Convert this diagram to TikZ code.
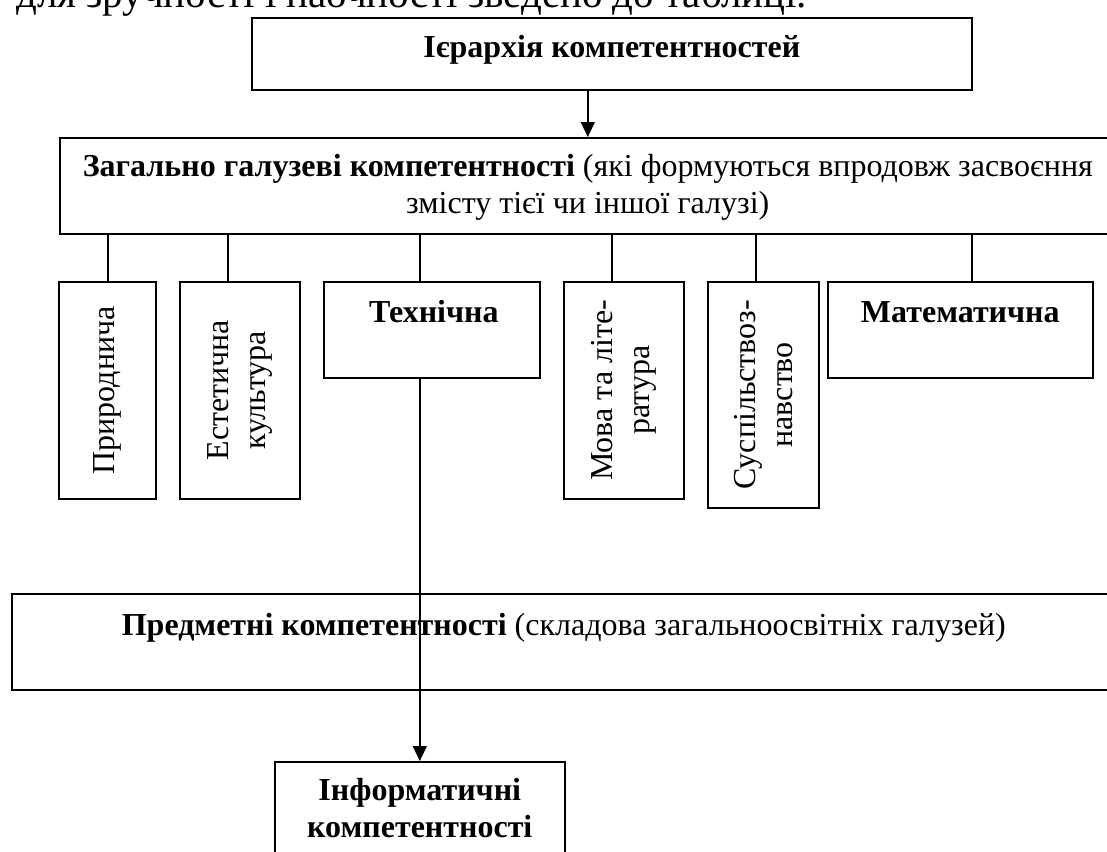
\documentclass[tikz,border=0pt]{standalone}
\usepackage{fontspec}
\setmainfont{Liberation Serif}
\usetikzlibrary{calc, arrows.meta}
\tikzset{compbox/.style={draw, line width=1.6pt, inner sep=0pt, anchor=north west}}
\tikzset{vlabel/.style={rotate=90, align=center, inner sep=0pt}}
\tikzset{boxtext/.style={anchor=base, align=center, inner sep=0pt}}
\tikzset{conn/.style={line width=1.5pt}}
\tikzset{arr/.style={line width=1.5pt, -{Triangle[length=15pt,width=14pt]}}}

\begin{document}
\begin{tikzpicture}[x=1pt, y=-1pt, font=\fontsize{32}{37}\selectfont] % pixel grid, y runs down
  \clip (0,0) rectangle (1107,851);

  \node[anchor=base west, inner sep=0pt, font=\fontsize{41}{47}\selectfont] (intro) at (16,8) {для зручності і наочності зведено до таблиці.};

  \node[compbox, minimum width=720pt, minimum height=72pt] (hier) at (251,17) {};
  \node[compbox, minimum width=1056pt, minimum height=96pt] (gen) at (59,137) {};
  \node[compbox, minimum width=97pt, minimum height=217pt] (prir) at (58,281) {};
  \node[compbox, minimum width=120pt, minimum height=217pt] (est) at (179,281) {};
  \node[compbox, minimum width=216pt, minimum height=96pt] (tech) at (323,281) {};
  \node[compbox, minimum width=120pt, minimum height=217pt] (mova) at (563,281) {};
  \node[compbox, minimum width=111pt, minimum height=226pt] (susp) at (707,281) {};
  \node[compbox, minimum width=265pt, minimum height=96pt] (math) at (827,281) {};
  \node[compbox, minimum width=1104pt, minimum height=96pt] (subj) at (11,593) {};
  \node[compbox, minimum width=290pt, minimum height=110pt] (info) at (274,761) {};

  % base of a two-line node sits on its last line
  \node[boxtext] (hiertxt) at ($(hier.north)+(0,41)$) {\textbf{Ієрархія компетентностей}};
  \node[boxtext] (gentxt) at ($(gen.north)+(0,76)$) {\textbf{Загально галузеві компетентності} (які формуються впродовж засвоєння\\змісту тієї чи іншої галузі)};
  \node[boxtext] (techtxt) at ($(tech.north)+(2,41)$) {\textbf{Технічна}};
  \node[boxtext] (mathtxt) at ($(math.north)+(0,41)$) {\textbf{Математична}};
  \node[boxtext] (subjtxt) at ($(subj.north)+(0,42)$) {\textbf{Предметні компетентності} (складова загальноосвітніх галузей)};
  \node[boxtext] (infotxt) at ($(info.north)+(0,76)$) {\textbf{Інформатичні}\\\textbf{компетентності}};

  \node[vlabel] (prirtxt) at (prir.center) {Природнича};
  \node[vlabel] (esttxt) at (est.center) {Естетична\\культура};
  \node[vlabel] (movatxt) at (mova.center) {Мова та літе-\\ратура};
  \node[vlabel] (susptxt) at (susp.center) {Суспільствоз-\\навство};

  \foreach \b/\dx in {prir/0.5, est/-12, tech/-12, mova/-12, susp/-7.5, math/11.5}
    \draw[conn] ($(\b.north)+(\dx,0)$) coordinate (top) -- (top |- gen.south);

  \draw[arr] (gen.north |- hier.south) -- (gen.north);
  \draw[arr] (info.north |- tech.south) -- (info.north);
\end{tikzpicture}
\end{document}
